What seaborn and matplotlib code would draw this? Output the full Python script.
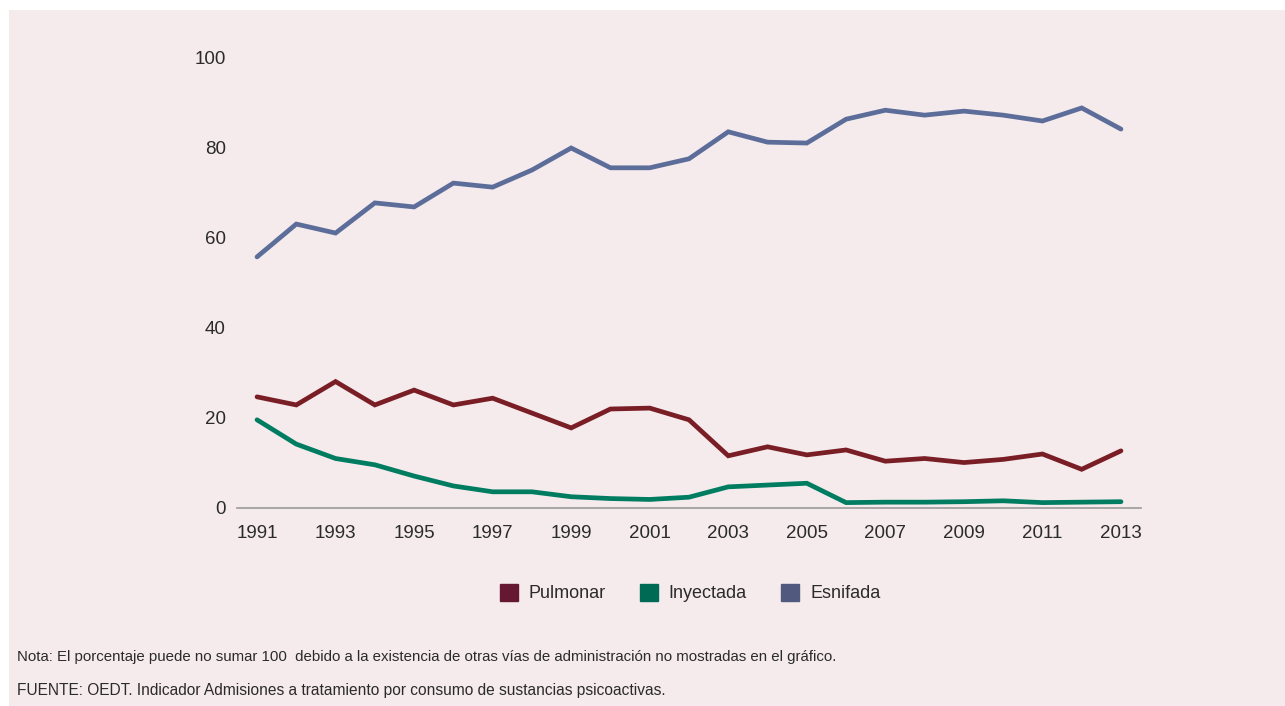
import matplotlib
matplotlib.use("Agg")
import matplotlib.pyplot as plt
import matplotlib.patches as mpatches
import seaborn as sns
import pandas as pd

years = list(range(1991, 2014))
pulmonar = [24.7, 22.9, 28.1, 22.9, 26.2, 22.9, 24.4, 21.1, 17.8, 22.0, 22.2, 19.6,
            11.6, 13.6, 11.8, 12.9, 10.4, 11.0, 10.1, 10.8, 12.0, 8.6, 12.7]
inyectada = [19.6, 14.2, 11.0, 9.6, 7.1, 4.9, 3.6, 3.6, 2.5, 2.1, 1.9, 2.4,
             4.7, 5.1, 5.5, 1.2, 1.3, 1.3, 1.4, 1.6, 1.2, 1.3, 1.4]
esnifada = [55.8, 63.1, 61.1, 67.8, 66.9, 72.2, 71.3, 75.1, 80.0, 75.6, 75.6, 77.6,
            83.6, 81.3, 81.1, 86.4, 88.4, 87.3, 88.2, 87.3, 86.0, 88.9, 84.2]
series_names = ["Pulmonar", "Inyectada", "Esnifada"]
line_colors = ["#7a1e26", "#007c61", "#5d6d9a"]
legend_colors = ["#661833", "#006a55", "#515a7e"]
y_ticks = [0, 20, 40, 60, 80, 100]
x_ticks = list(range(1991, 2014, 2))
note = "Nota: El porcentaje puede no sumar 100  debido a la existencia de otras vías de administración no mostradas en el gráfico."
source = "FUENTE: OEDT. Indicador Admisiones a tratamiento por consumo de sustancias psicoactivas."

df = pd.DataFrame({
    "Año": years * 3,
    "Valor": pulmonar + inyectada + esnifada,
    "Vía": [series_names[0]] * len(years) + [series_names[1]] * len(years) + [series_names[2]] * len(years),
})

sns.set_theme(style="white")
plt.rcParams['font.family'] = ['Liberation Sans', 'DejaVu Sans']
bg = "#f5ebed"
text_color = "#2b2b2b"

fig = plt.figure(figsize=(12.85, 7.06), dpi=100, facecolor="white")
bgax = fig.add_axes([9 / 1285, 0, 1 - 9 / 1285, 1 - 10 / 706])
bgax.set_facecolor(bg)
bgax.set_xticks([]); bgax.set_yticks([])
for s in bgax.spines.values():
    s.set_visible(False)

ax = fig.add_axes([237 / 1285, 1 - 508 / 706, (1141 - 237) / 1285, (508 - 58) / 706])
ax.set_facecolor("none")
sns.lineplot(data=df, x="Año", y="Valor", hue="Vía", palette=dict(zip(series_names, line_colors)),
             linewidth=3.4, ax=ax, legend=False, solid_capstyle="round", solid_joinstyle="miter")

ax.set_xlim(1990.49, 2013.51)
ax.set_ylim(0, 100)
ax.set_xticks(x_ticks)
ax.set_yticks(y_ticks)
ax.set_xlabel("")
ax.set_ylabel("")
ax.tick_params(axis="both", length=0, labelsize=13.5, colors=text_color)
ax.tick_params(axis="y", pad=8)
ax.tick_params(axis="x", pad=12)
for side in ["left", "right", "top"]:
    ax.spines[side].set_visible(False)
ax.spines["bottom"].set_color("#9a9a9a")
ax.spines["bottom"].set_linewidth(1.2)

handles = [mpatches.Patch(facecolor=c, edgecolor=c, label=n) for n, c in zip(series_names, legend_colors)]
fig.legend(handles=handles, loc="center", bbox_to_anchor=(690 / 1285, 1 - 593 / 706), ncol=3,
           frameon=False, fontsize=13, handlelength=1.0, handleheight=1.1, handletextpad=0.6,
           columnspacing=1.9, labelcolor=text_color)

fig.text(17 / 1285, 1 - 657 / 706, note, fontsize=10.8, color=text_color, va="center", ha="left")
fig.text(17 / 1285, 1 - 690 / 706, source, fontsize=11.2, color=text_color, va="center", ha="left")

fig.savefig("out.png", dpi=100, facecolor="white")
